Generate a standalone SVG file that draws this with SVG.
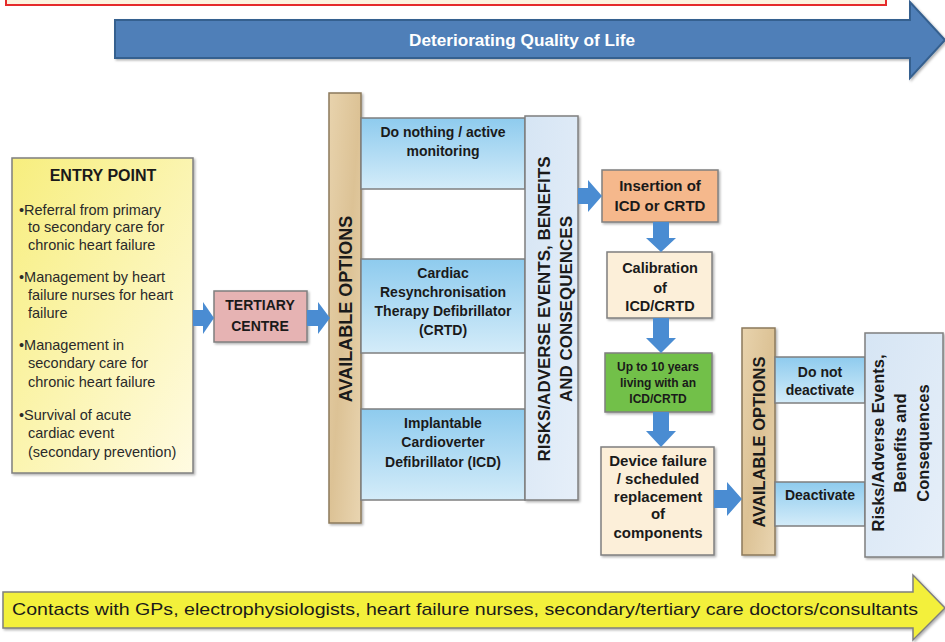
<svg xmlns="http://www.w3.org/2000/svg" width="945" height="642" viewBox="0 0 945 642">
<defs>
  <linearGradient id="gEntry" x1="0" y1="0" x2="1" y2="1">
    <stop offset="0" stop-color="#f7ee7e"/>
    <stop offset="1" stop-color="#fffbe2"/>
  </linearGradient>
  <linearGradient id="gOpt" x1="0" y1="0" x2="0" y2="1">
    <stop offset="0" stop-color="#8ecbee"/>
    <stop offset="1" stop-color="#d4ecf9"/>
  </linearGradient>
  <linearGradient id="gTan" x1="0" y1="0" x2="1" y2="1">
    <stop offset="0" stop-color="#e8d3ad"/>
    <stop offset="0.5" stop-color="#dcc295"/>
    <stop offset="1" stop-color="#e9d5b1"/>
  </linearGradient>
  <linearGradient id="gRisk" x1="0" y1="0" x2="1" y2="1">
    <stop offset="0" stop-color="#d6e5f4"/>
    <stop offset="1" stop-color="#e6eff9"/>
  </linearGradient>
  <filter id="sh" x="-10%" y="-10%" width="130%" height="130%">
    <feDropShadow dx="1.5" dy="1.5" stdDeviation="1" flood-color="#000" flood-opacity="0.3"/>
  </filter>
</defs>
<style>
  text { font-family: "Liberation Sans", Arial, sans-serif; }
  .b { font-weight: bold; fill: #1a1a1a; }
  .c { text-anchor: middle; }
  .box { stroke: #7f7f7f; stroke-width: 1.5; filter: url(#sh); }
  .opt { fill: url(#gOpt); stroke: #7f7f7f; stroke-width: 1.5; }
  .tan { fill: url(#gTan); stroke: #8c7a5c; stroke-width: 1.5; filter: url(#sh); }
  .risk { fill: url(#gRisk); stroke: #7f7f7f; stroke-width: 1.5; filter: url(#sh); }
  .arr { fill: #4a8cd2; }
  .ent { font-size: 14.5px; fill: #2a2a2a; }
</style>

<rect width="945" height="642" fill="#ffffff"/>

<g id="top-banner">
  <rect x="6" y="-10" width="880" height="15" fill="#fcf3df" stroke="#e52b2b" stroke-width="2"/>
</g>

<g id="quality-arrow">
  <path d="M115,20 H910 V2 L945,40 L910,78 V58 H115 Z" fill="#4f7fb8" stroke="#36608f" stroke-width="2" filter="url(#sh)"/>
  <text x="522" y="46" class="c" font-size="17" font-weight="bold" fill="#ffffff" textLength="226" lengthAdjust="spacingAndGlyphs">Deteriorating Quality of Life</text>
</g>

<g id="entry-point">
  <rect x="12" y="158" width="181" height="315" fill="url(#gEntry)" class="box"/>
  <text x="103" y="181" class="b c" font-size="16">ENTRY POINT</text>
  <g class="ent">
    <text x="19" y="215">•Referral from primary</text>
    <text x="28" y="232">to secondary care for</text>
    <text x="28" y="250">chronic heart failure</text>
    <text x="19" y="282">•Management by heart</text>
    <text x="28" y="300">failure nurses for heart</text>
    <text x="28" y="318">failure</text>
    <text x="19" y="350">•Management in</text>
    <text x="28" y="368">secondary care for</text>
    <text x="28" y="387">chronic heart failure</text>
    <text x="19" y="420">•Survival of acute</text>
    <text x="28" y="438">cardiac event</text>
    <text x="28" y="457">(secondary prevention)</text>
  </g>
</g>

<g id="tertiary-centre">
  <rect x="214" y="291" width="93" height="51" fill="#e6b3b3" class="box"/>
  <text x="260" y="310" class="b c" font-size="14">TERTIARY</text>
  <text x="260" y="331" class="b c" font-size="14">CENTRE</text>
</g>

<g id="available-options-1">
  <rect x="329" y="93" width="32" height="430" class="tan"/>
  <text transform="translate(352,309) rotate(-90)" class="b c" font-size="18">AVAILABLE OPTIONS</text>
</g>

<g id="option-do-nothing">
  <rect x="361" y="118" width="164" height="71" class="opt"/>
  <text x="443" y="137" class="b c" font-size="14">Do nothing / active</text>
  <text x="443" y="156" class="b c" font-size="14">monitoring</text>
</g>

<g id="option-crtd">
  <rect x="361" y="259" width="164" height="94" class="opt"/>
  <text x="443" y="278" class="b c" font-size="14">Cardiac</text>
  <text x="443" y="297" class="b c" font-size="14">Resynchronisation</text>
  <text x="443" y="316" class="b c" font-size="14">Therapy Defibrillator</text>
  <text x="443" y="335" class="b c" font-size="14">(CRTD)</text>
</g>

<g id="option-icd">
  <rect x="361" y="409" width="164" height="91" class="opt"/>
  <text x="443" y="428" class="b c" font-size="14">Implantable</text>
  <text x="443" y="447" class="b c" font-size="14">Cardioverter</text>
  <text x="443" y="467" class="b c" font-size="14">Defibrillator (ICD)</text>
</g>

<g id="risks-1">
  <rect x="525" y="116" width="53" height="384" class="risk"/>
  <text transform="translate(550,309) rotate(-90)" class="b c" font-size="17">RISKS/ADVERSE EVENTS, BENEFITS</text>
  <text transform="translate(572,309) rotate(-90)" class="b c" font-size="17">AND CONSEQUENCES</text>
</g>

<g id="insertion">
  <rect x="602" y="170" width="116" height="52" fill="#f5b88c" class="box"/>
  <text x="660" y="191" class="b c" font-size="15">Insertion of</text>
  <text x="660" y="211" class="b c" font-size="15">ICD or CRTD</text>
</g>

<g id="calibration">
  <rect x="607" y="252" width="105" height="66" fill="#fcefd9" class="box"/>
  <text x="660" y="273" class="b c" font-size="14.5">Calibration</text>
  <text x="660" y="293" class="b c" font-size="14.5">of</text>
  <text x="660" y="311" class="b c" font-size="14.5">ICD/CRTD</text>
</g>

<g id="living">
  <rect x="605" y="353" width="107" height="59" fill="#72c04a" class="box"/>
  <text x="658" y="371" class="b c" font-size="12">Up to 10 years</text>
  <text x="658" y="387" class="b c" font-size="12">living with an</text>
  <text x="658" y="403" class="b c" font-size="12">ICD/CRTD</text>
</g>

<g id="device-failure">
  <rect x="601" y="447" width="113" height="108" fill="#fcefd9" class="box"/>
  <text x="658" y="466" class="b c" font-size="15">Device failure</text>
  <text x="658" y="484" class="b c" font-size="15">/ scheduled</text>
  <text x="658" y="502" class="b c" font-size="15">replacement</text>
  <text x="658" y="519" class="b c" font-size="15">of</text>
  <text x="658" y="538" class="b c" font-size="15">components</text>
</g>

<g id="available-options-2">
  <rect x="742" y="328" width="33" height="227" class="tan"/>
  <text transform="translate(765,442) rotate(-90)" class="b c" font-size="16.5">AVAILABLE OPTIONS</text>
</g>

<g id="option-do-not-deactivate">
  <rect x="775" y="357" width="90" height="46" class="opt"/>
  <text x="820" y="377" class="b c" font-size="14">Do not</text>
  <text x="820" y="395" class="b c" font-size="14">deactivate</text>
</g>

<g id="option-deactivate">
  <rect x="775" y="482" width="90" height="44" class="opt"/>
  <text x="820" y="500" class="b c" font-size="14">Deactivate</text>
</g>

<g id="risks-2">
  <rect x="865" y="333" width="78" height="224" class="risk"/>
  <text transform="translate(884,443) rotate(-90)" class="b c" font-size="16.5">Risks/Adverse Events,</text>
  <text transform="translate(906,443) rotate(-90)" class="b c" font-size="16.5">Benefits and</text>
  <text transform="translate(929,443) rotate(-90)" class="b c" font-size="16.5">Consequences</text>
</g>

<g id="contacts-arrow">
  <path d="M3,592 H913 V575 L945,608 L913,640 V628 H3 Z" fill="#f3f03a" stroke="#7f7f7f" stroke-width="1.5" filter="url(#sh)"/>
  <text x="12" y="615" font-size="17" fill="#1a1a1a" textLength="906" lengthAdjust="spacingAndGlyphs">Contacts with GPs, electrophysiologists, heart failure nurses, secondary/tertiary care doctors/consultants</text>
</g>

<g id="connectors">
  <path class="arr" d="M193,310 H203 V302 L214,318 L203,334 V326 H193 Z"/>
  <path class="arr" d="M307,310 H318 V302 L330,318 L318,334 V326 H307 Z"/>
  <path class="arr" d="M578,188 H588 V180 L602,196 L588,212 V204 H578 Z"/>
  <path class="arr" d="M653,222 V238 H646 L661,252 L676,238 H669 V222 Z"/>
  <path class="arr" d="M653,318 V338 H646 L661,353 L676,338 H669 V318 Z"/>
  <path class="arr" d="M653,412 V431 H646 L661,447 L676,431 H669 V412 Z"/>
  <path class="arr" d="M714,490 H727 V482 L742,499 L727,516 V508 H714 Z"/>
</g>
</svg>
